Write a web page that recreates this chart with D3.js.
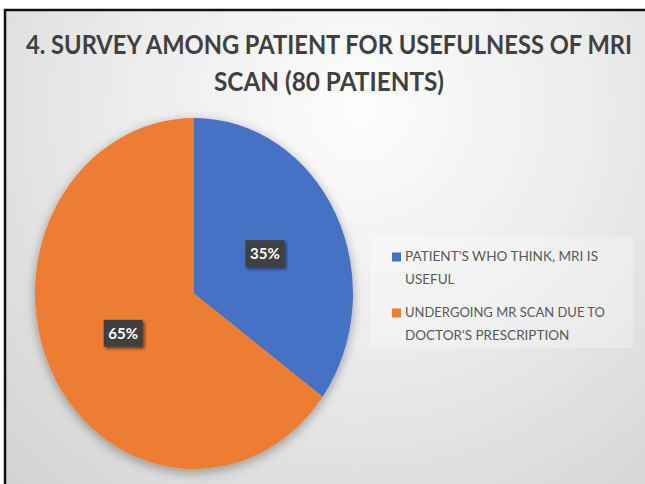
<!DOCTYPE html>
<html>
<head>
<meta charset="utf-8">
<script src="https://cdn.jsdelivr.net/npm/d3@7"></script>
<style>
  html, body { margin: 0; padding: 0; background: #fff; }
  svg { display: block; }
</style>
</head>
<body>
<svg id="chart" width="645" height="484"></svg>
<script>
const titleLines = ["4. SURVEY AMONG PATIENT FOR USEFULNESS OF MRI", "SCAN (80 PATIENTS)"];
const categories = ["PATIENT'S WHO THINK, MRI IS USEFUL", "UNDERGOING MR SCAN DUE TO DOCTOR'S PRESCRIPTION"];
const legendLines = [["PATIENT'S WHO THINK, MRI IS", "USEFUL"], ["UNDERGOING MR SCAN DUE TO", "DOCTOR'S PRESCRIPTION"]];
const values = [35, 65];
const colors = ["#4472C4", "#ED7D31"];

const W = 645, H = 484;
const svg = d3.select("#chart");
const defs = svg.append("defs");

const bg = defs.append("radialGradient").attr("id", "bg")
  .attr("gradientUnits", "userSpaceOnUse")
  .attr("cx", 360).attr("cy", 110).attr("r", 520);
bg.append("stop").attr("offset", "0").attr("stop-color", "#fdfdfd");
bg.append("stop").attr("offset", "0.45").attr("stop-color", "#ececec");
bg.append("stop").attr("offset", "1").attr("stop-color", "#d2d2d2");

const shadow = defs.append("filter").attr("id", "shadow")
  .attr("x", "-20%").attr("y", "-20%").attr("width", "140%").attr("height", "140%");
shadow.append("feGaussianBlur").attr("in", "SourceAlpha").attr("stdDeviation", 6).attr("result", "b");
shadow.append("feOffset").attr("in", "b").attr("dx", 0).attr("dy", 3).attr("result", "o");
shadow.append("feComponentTransfer").attr("in", "o").attr("result", "s")
  .append("feFuncA").attr("type", "linear").attr("slope", 0.35);
const m = shadow.append("feMerge");
m.append("feMergeNode").attr("in", "s");
m.append("feMergeNode").attr("in", "SourceGraphic");

const lblShadow = defs.append("filter").attr("id", "lblShadow")
  .attr("x", "-30%").attr("y", "-30%").attr("width", "160%").attr("height", "160%");
lblShadow.append("feGaussianBlur").attr("in", "SourceAlpha").attr("stdDeviation", 1.5).attr("result", "b");
lblShadow.append("feOffset").attr("in", "b").attr("dx", 2).attr("dy", 2).attr("result", "o");
lblShadow.append("feComponentTransfer").attr("in", "o").attr("result", "s")
  .append("feFuncA").attr("type", "linear").attr("slope", 0.5);
const m2 = lblShadow.append("feMerge");
m2.append("feMergeNode").attr("in", "s");
m2.append("feMergeNode").attr("in", "SourceGraphic");

// background + frame
svg.append("rect").attr("width", W).attr("height", H).attr("fill", "#ffffff");
svg.append("rect").attr("x", 5).attr("y", 10).attr("width", W + 10).attr("height", H)
  .attr("fill", "url(#bg)").attr("stroke", "#111").attr("stroke-width", 2.5);

// title
const titleG = svg.append("g").attr("font-family", "Lato, 'Open Sans', sans-serif")
  .attr("font-weight", "bold").attr("fill", "#404040").attr("text-anchor", "middle");
const titleY = [54, 91];
const titleLen = [606, 230];
titleLines.forEach((t, i) => {
  titleG.append("text")
    .attr("transform", `translate(329,${titleY[i]}) scale(1,1.18)`)
    .attr("font-size", 22)
    .attr("textLength", titleLen[i]).attr("lengthAdjust", "spacingAndGlyphs")
    .text(t);
});

// pie
const cx = 194, cy = 293.5, R = 175.5, sx = 159 / 175.5;
const pie = d3.pie().sort(null).value(d => d)(values);
const arc = d3.arc().innerRadius(0).outerRadius(R);
const labelArc = d3.arc().innerRadius(0).outerRadius(R);

const pieG = svg.append("g").attr("transform", `translate(${cx},${cy}) scale(${sx},1)`);
pieG.append("g").attr("filter", "url(#shadow)")
  .selectAll("path").data(pie).join("path")
  .attr("d", arc).attr("fill", (d, i) => colors[i]);

// data labels
const lab = svg.append("g");
pie.forEach((d, i) => {
  const [x, y] = labelArc.centroid(d);
  const px = cx + x * sx, py = cy + y;
  const g = lab.append("g").attr("transform", `translate(${px},${py})`);
  g.append("rect").attr("x", -19.5).attr("y", -13.5).attr("width", 39).attr("height", 27)
    .attr("fill", "#404040").attr("filter", "url(#lblShadow)");
  g.append("text").attr("x", 0).attr("y", 5.5).attr("text-anchor", "middle")
    .attr("font-family", "Lato, 'Open Sans', sans-serif").attr("font-weight", "bold")
    .attr("font-size", 15).attr("fill", "#ffffff")
    .text(Math.round(d.data) + "%");
});

// legend
const leg = svg.append("g");
leg.append("rect").attr("x", 370).attr("y", 237).attr("width", 263).attr("height", 111)
  .attr("fill", "#ffffff").attr("opacity", 0.28);
const legY = [261, 317];
const legLen = [[193, 0], [200, 0]];
legendLines.forEach((lines, i) => {
  leg.append("rect").attr("x", 392).attr("y", legY[i] - 8.5).attr("width", 9).attr("height", 9)
    .attr("fill", colors[i]);
  lines.forEach((t, j) => {
    const tx = leg.append("text").attr("x", 405).attr("y", legY[i] + j * 23)
      .attr("font-family", "Lato, 'Open Sans', sans-serif").attr("font-size", 13.5)
      .attr("fill", "#595959").text(t);
    if (j === 0) tx.attr("textLength", legLen[i][0]).attr("lengthAdjust", "spacingAndGlyphs");
  });
});
</script>
</body>
</html>
